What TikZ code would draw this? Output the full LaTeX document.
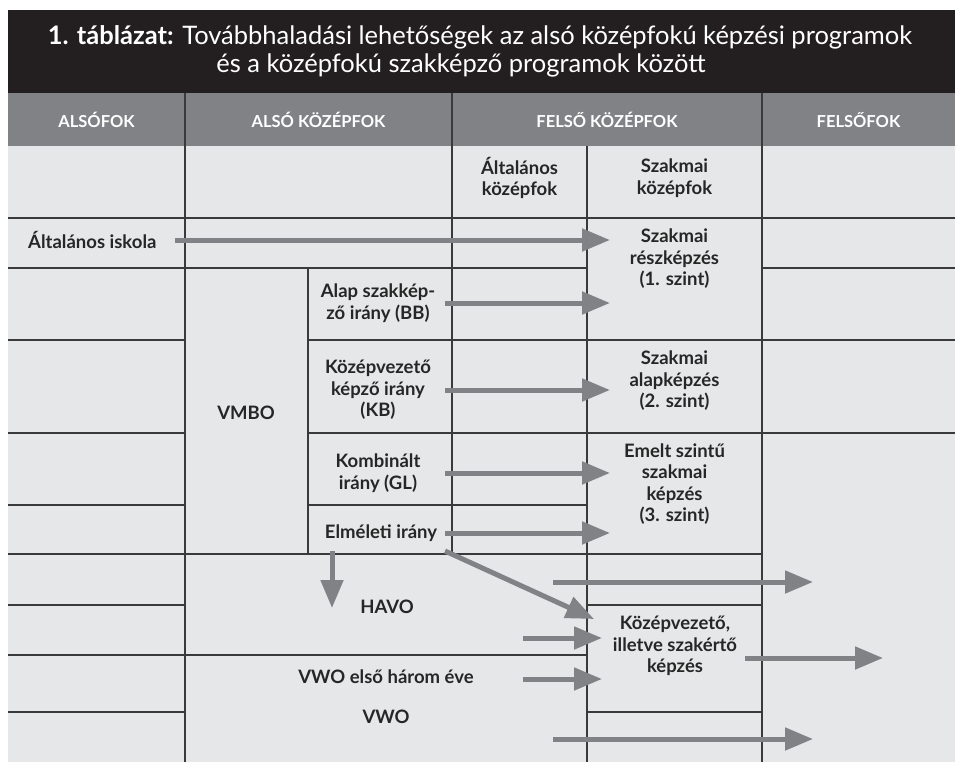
\documentclass[tikz,border=0pt]{standalone}
\usepackage{fontspec}
\setmainfont{Lato}
\usetikzlibrary{arrows.meta,positioning}

\definecolor{titlebg}{HTML}{231F20}
\definecolor{headbg}{HTML}{808285}
\definecolor{cellbg}{HTML}{E6E7E8}
\definecolor{rule}{HTML}{3A3A3A}
\definecolor{arrowgray}{HTML}{808285}

\tikzset{
    colhead/.style={text=white,font=\fontsize{16.5}{18}\selectfont\bfseries},
    titleline/.style={text=white,anchor=base,font=\fontsize{25.5}{28}\selectfont},
    cell/.style={align=center,text=black!85,font=\fontsize{18.5}{21.5}\selectfont\bfseries,inner sep=2pt},
    gridline/.style={draw=rule,line width=1.6pt},
    flow/.style={draw=arrowgray,line width=5pt,-{Triangle[length=28pt,width=22pt]}},
}

\begin{document}
\begin{tikzpicture}[x=1pt,y=-1pt]
        % \draw[very thin,color=gray] (0,0) grid[step=50] (955,762);
        \useasboundingbox (0,0) rectangle (955,762);
        \fill[titlebg] (8,10) rectangle (955,93);
        \fill[headbg] (8,93) rectangle (955,146);
        \fill[cellbg] (8,146) rectangle (955,762);

        % title
        \node[titleline] (title1) at (480,45) {\textbf{1. táblázat:} Továbbhaladási lehetőségek az alsó középfokú képzési programok};
        \node[titleline] (title2) at (461,73) {és a középfokú szakképző programok között};

        % cell borders
        \draw[gridline] (185,93) -- (185,762) (452,93) -- (452,554) (308,268) -- (308,554)
            (587,146) -- (587,762) (762,93) -- (762,762);
        \foreach \y/\xa/\xb in {218/8/955, 268/8/587, 268/762/955, 340/8/185, 340/308/955,
            433/8/185, 433/308/955, 505/8/185, 505/308/587, 554/8/762, 605/8/185, 605/587/762,
            655/8/587, 712/8/185, 712/587/762}
            \draw[gridline] (\xa,\y) -- (\xb,\y);

        % column heads
        \node[colhead] (alsofok) at (96.5,120) {ALSÓFOK};
        \node[colhead] (alsokozep) at (318.5,120) {ALSÓ KÖZÉPFOK};
        \node[colhead] (felsokozep) at (607,120) {FELSŐ KÖZÉPFOK};
        \node[colhead] (felsofok) at (858.5,120) {FELSŐFOK};

        \node[cell] (altkozep) at (519.5,178) {Általános\\középfok};
        \node[cell] (szakkozep) at (674.5,178) {Szakmai\\középfok};
        \node[cell,anchor=west] (altisk) at (26,240) {Általános iskola};
        \node[cell] (reszk) at (674.5,259) {Szakmai\\részképzés\\(1. szint)};
        \node[cell] (alapk) at (674.5,381) {Szakmai\\alapképzés\\(2. szint)};
        \node[cell] (emelt) at (674.5,484) {Emelt szintű\\szakmai\\képzés\\(3. szint)};
        \node[cell] (kvsz) at (675,646) {Középvezető,\\illetve szakértő\\képzés};
        \node[cell] (vmbo) at (246,413) {VMBO};
        \node[cell] (bb) at (378,303) {Alap szakkép-\\ző irány (BB)};
        \node[cell] (kb) at (378,390) {Középvezető\\képző irány\\(KB)};
        \node[cell] (gl) at (378,473) {Kombinált\\irány (GL)};
        \node[cell] (elm) at (381,533) {Elméleti irány};
        \node[cell] (havo) at (387,607) {HAVO};
        \node[cell] (vwoelso) at (386,677) {VWO első három éve};
        \node[cell] (vwo) at (386,717) {VWO};

        % arrow ends
        \coordinate (tipS) at (610,0);
        \coordinate (tailV) at (445,0);
        \coordinate (havoTop) at (332,551);
        \coordinate (havoIn) at (332,608);
        \coordinate (diagTip) at (594,619);
        \coordinate (havoOut) at (553,582);
        \coordinate (vwoOut) at (553,739);
        \coordinate (felsoTip) at (813,0);
        \coordinate (kvIn) at (523,638);
        \coordinate (vwoIn) at (523,679);
        \coordinate (kvTip) at (602,0);
        \coordinate (kvOut) at (745,658);

        \draw[flow] (altisk.east -| 175,0) -- (altisk.east -| tipS);
        \draw[flow] (tailV |- bb) -- (tipS |- bb);
        \draw[flow] (tailV |- kb) -- (tipS |- kb);
        \draw[flow] (tailV |- gl) -- (tipS |- gl);
        \draw[flow] (tailV |- elm) -- (tipS |- elm);
        \draw[flow] (havoTop) -- (havoIn);
        \draw[flow] (tailV |- havoTop) -- (diagTip);
        \draw[flow] (havoOut) -- (havoOut -| felsoTip);
        \draw[flow] (vwoOut) -- (vwoOut -| felsoTip);
        \draw[flow] (kvIn) -- (kvIn -| kvTip);
        \draw[flow] (vwoIn) -- (vwoIn -| kvTip);
        \draw[flow] (kvOut) -- (883,658);
    \end{tikzpicture}
\end{document}
